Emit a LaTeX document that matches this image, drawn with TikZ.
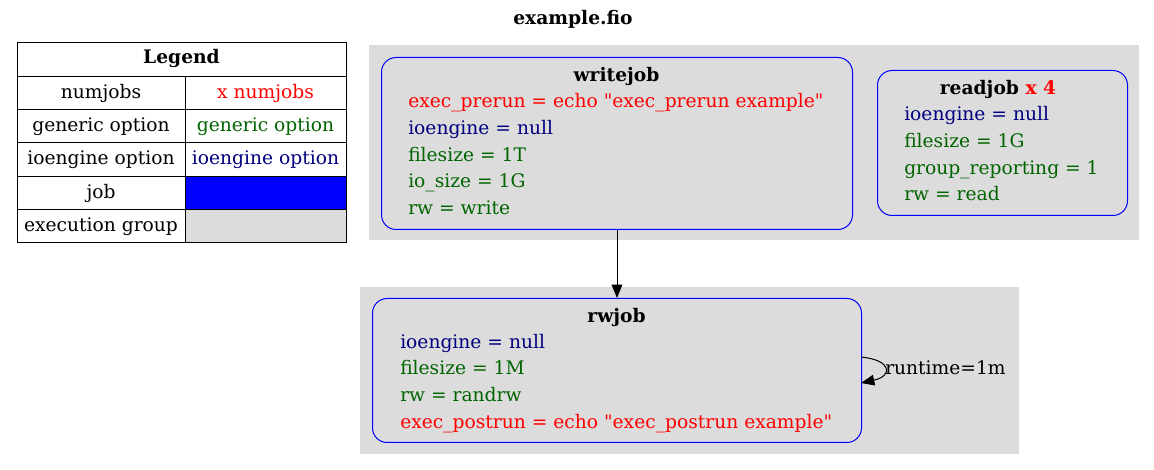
\documentclass[tikz,border=0pt]{standalone}
\usepackage{fontspec}
\defaultfontfeatures{Ligatures=TeXOff}
\setmainfont{DejaVu Serif}[Ligatures=TeXOff]
\usetikzlibrary{arrows.meta}
\definecolor{gvgray}{RGB}{220,220,220}
\definecolor{gvgreen}{RGB}{0,100,0}
\definecolor{gvnavy}{RGB}{0,0,128}
\definecolor{gvblue}{RGB}{0,0,255}
\definecolor{gvred}{RGB}{255,0,0}
\tikzset{
  txt/.style={inner sep=0pt, font=\fontsize{14pt}{16pt}\selectfont},
  ln/.style={txt, anchor=base west},
  ttl/.style={txt, anchor=base, font=\fontsize{14pt}{16pt}\selectfont\bfseries},
  cluster/.style={fill=gvgray, draw=none},
  jobbox/.style={draw=gvblue, line width=0.75pt, rounded corners=11pt, fill=gvgray},
  edge/.style={draw=black, line width=0.75pt, -{Triangle[length=10pt,width=8pt]}},
}
\begin{document}
\begin{tikzpicture}[x=0.75pt,y=-0.75pt]
\useasboundingbox (0,0) rectangle (1154,470);
% title
\node[ttl] (title) at (573,24.5) {example.fio};
% legend table
\def\rh{33.33}
\foreach \i/\a/\b/\c in {1/numjobs/{\color{gvred}x numjobs}/white,2/generic option/{\color{gvgreen}generic option}/white,3/ioengine option/{\color{gvnavy}ioengine option}/white,4/job/{}/gvblue,5/execution group/{}/gvgray}{
  \path[draw=black, line width=0.75pt, fill=white] (17,43+\i*\rh) rectangle (185,43+\i*\rh+\rh);
  \path[draw=black, line width=0.75pt, fill=\c] (185,43+\i*\rh) rectangle (346,43+\i*\rh+\rh);
  \node[txt, anchor=base] (la\i) at (101,43+\i*\rh+22) {\a};
  \node[txt, anchor=base] (lb\i) at (265.5,43+\i*\rh+22) {\b};
}
\path[draw=black, line width=0.75pt, fill=white] (17,43) rectangle (346,43+\rh);
\node[ttl] (legend) at (181.5,64) {Legend};
% clusters
\path[cluster] (369,45) rectangle (1139,240);
\path[cluster] (360,287) rectangle (1019,454);
% writejob
\node[jobbox, minimum width=471*0.75pt, minimum height=172*0.75pt, anchor=north west] (wj) at (381,57) {};
\node[ttl] (wjt) at (616.5,82) {writejob};
\node[ln, text=gvred] (wj1) at (408,108) {exec\_prerun = echo "exec\_prerun example"};
\node[ln, text=gvnavy] (wj2) at (408,135) {ioengine = null};
\node[ln, text=gvgreen] (wj3) at (408,162) {filesize = 1T};
\node[ln, text=gvgreen] (wj4) at (408,188) {io\_size = 1G};
\node[ln, text=gvgreen] (wj5) at (408,215) {rw = write};
% readjob
\node[jobbox, minimum width=250*0.75pt, minimum height=145*0.75pt, anchor=north west] (rj) at (877,70) {};
\node[ttl] (rjt) at (998,95) {readjob \textcolor{gvred}{x 4}};
\node[ln, text=gvnavy] (rj1) at (904,121) {ioengine = null};
\node[ln, text=gvgreen] (rj2) at (904,148) {filesize = 1G};
\node[ln, text=gvgreen] (rj3) at (904,175) {group\_reporting = 1};
\node[ln, text=gvgreen] (rj4) at (904,201) {rw = read};
% rwjob
\node[jobbox, minimum width=489*0.75pt, minimum height=144*0.75pt, anchor=north west] (rw) at (372,298) {};
\node[ttl] (rwt) at (616.5,323) {rwjob};
\node[ln, text=gvnavy] (rw1) at (400,349) {ioengine = null};
\node[ln, text=gvgreen] (rw2) at (400,375) {filesize = 1M};
\node[ln, text=gvgreen] (rw3) at (400,402) {rw = randrw};
\node[ln, text=gvred] (rw4) at (400,429) {exec\_postrun = echo "exec\_postrun example"};
% edges
\draw[edge] (wj.south) -- (rw.north);
\coordinate (lp1) at (861,357);
\coordinate (lp2) at (861,383);
\draw[edge] (lp1) .. controls (892,360) and (893,376) .. (lp2);
\node[txt, anchor=base west] (rtl) at (885,375) {runtime=1m};
\end{tikzpicture}
\end{document}
